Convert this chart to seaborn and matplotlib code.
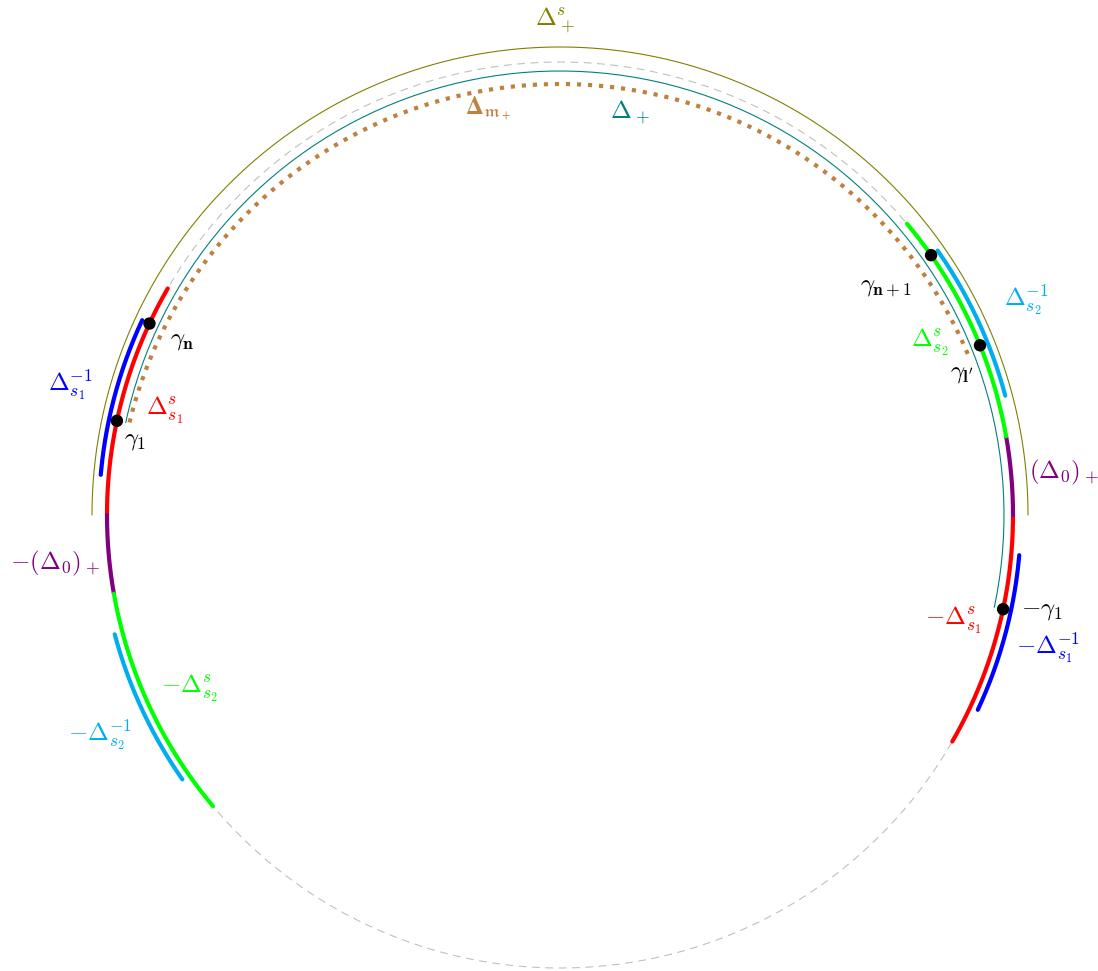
import numpy as np
import pandas as pd
import seaborn as sns
import matplotlib.pyplot as plt

# arcs around the circle: start angle, end angle (degrees), radius (px), centre shift (px), colour
arc_names = ["Δ+s", "Δ+", "Δm+", "Δs1s", "-Δs1s", "(Δ0)+", "-(Δ0)+", "Δs2s", "-Δs2s",
             "Δs1inv", "-Δs1inv", "Δs2inv", "-Δs2inv"]
arc_start = [0, -12, 23, 150, -30, 0, 180, 10, 190, 155, -25, 15, 195]
arc_end = [180, 168, 166.5, 180, 0, 10, 190, 40, 220, 175, -5, 35, 215]
arc_radius = [468, 444, 443, 453, 453, 453, 453, 453, 453, 461, 461, 461, 461]
arc_shift = [0, 0, -12, 0, 0, 0, 0, 0, 0, 0, 0, 0, 0]
arc_color = ["#808000", "#008080", "#bf8040", "#ff0000", "#ff0000", "#800080", "#800080",
             "#00ff00", "#00ff00", "#0000ff", "#0000ff", "#00aeef", "#00aeef"]
arc_width = [0.8, 0.8, 3, 3, 3, 3, 3, 3, 3, 3, 3, 3, 3]
arc_style = ["-", "-", ":", "-", "-", "-", "-", "-", "-", "-", "-", "-", "-"]

# roots on the main circle
dot_angle = [168, 155, 35, 22, -12]
main_radius = 453

# labels: text, x, y (px, image coordinates), colour
label_text = [r"$\Delta_+^s$", r"$\mathbf{\Delta}_{\mathfrak{m}_+}$", r"$\mathbf{\Delta}_+$",
              r"$\gamma_{\mathbf{n}}$", r"$\Delta_{s_1}^{-1}$", r"$\Delta_{s_1}^{s}$",
              r"$\gamma_{\mathbf{1}}$", r"$-(\Delta_0)_+$", r"$-\Delta_{s_2}^{s}$",
              r"$-\Delta_{s_2}^{-1}$", r"$\gamma_{\mathbf{n+1}}$", r"$\Delta_{s_2}^{-1}$",
              r"$\Delta_{s_2}^{s}$", r"$\gamma_{\mathbf{l'}}$", r"$(\Delta_0)_+$",
              r"$-\gamma_{\mathbf{1}}$", r"$-\Delta_{s_1}^{s}$", r"$-\Delta_{s_1}^{-1}$"]
label_x = [555, 488, 630, 182, 70, 165, 135, 55, 190, 100, 886, 1026, 930, 962, 1064, 1042, 953, 1048]
label_y = [20, 108, 112, 340, 385, 410, 440, 563, 688, 735, 287, 300, 342, 373, 472, 610, 620, 648]
label_color = ["#808000", "#bf8040", "#008080", "black", "#0000ff", "#ff0000", "black",
               "#800080", "#00ff00", "#00aeef", "black", "#00aeef", "#00ff00", "black",
               "#800080", "black", "#ff0000", "#0000ff"]

sns.set_theme(style="white")
plt.rcParams["mathtext.fontset"] = "cm"

W, H = 1098, 971
cx, cy = 560, 515
fig = plt.figure(figsize=(W / 100, H / 100), dpi=100)
ax = fig.add_axes([0, 0, 1, 1])
ax.set_xlim(-cx, W - cx)
ax.set_ylim(cy - H, cy)
ax.set_aspect("equal")
ax.axis("off")

# full dashed circle
t = np.linspace(0, 2 * np.pi, 721)
circ = pd.DataFrame({"x": main_radius * np.cos(t), "y": main_radius * np.sin(t)})
ax.plot(circ["x"], circ["y"], color="#c0c0c0", lw=0.8, dashes=(7, 5), zorder=1)

for i in range(len(arc_names)):
    a = np.radians(np.linspace(arc_start[i], arc_end[i], 200))
    df = pd.DataFrame({"x": arc_radius[i] * np.cos(a),
                       "y": arc_radius[i] * np.sin(a) + arc_shift[i]})
    sns.lineplot(data=df, x="x", y="y", sort=False, estimator=None, ax=ax,
                 color=arc_color[i], lw=arc_width[i], linestyle=arc_style[i], zorder=2)

da = np.radians(dot_angle)
dots = pd.DataFrame({"x": main_radius * np.cos(da), "y": main_radius * np.sin(da)})
sns.scatterplot(data=dots, x="x", y="y", ax=ax, color="black", s=80, edgecolor="none", zorder=4)

for txt, x, y, c in zip(label_text, label_x, label_y, label_color):
    mf = "stix" if "mathfrak" in txt else "cm"
    ax.text(x - cx, cy - y, txt, color=c, fontsize=18, ha="center", va="center",
            math_fontfamily=mf)

ax.set_xlabel("")
ax.set_ylabel("")
fig.savefig("out.png", dpi=100)
